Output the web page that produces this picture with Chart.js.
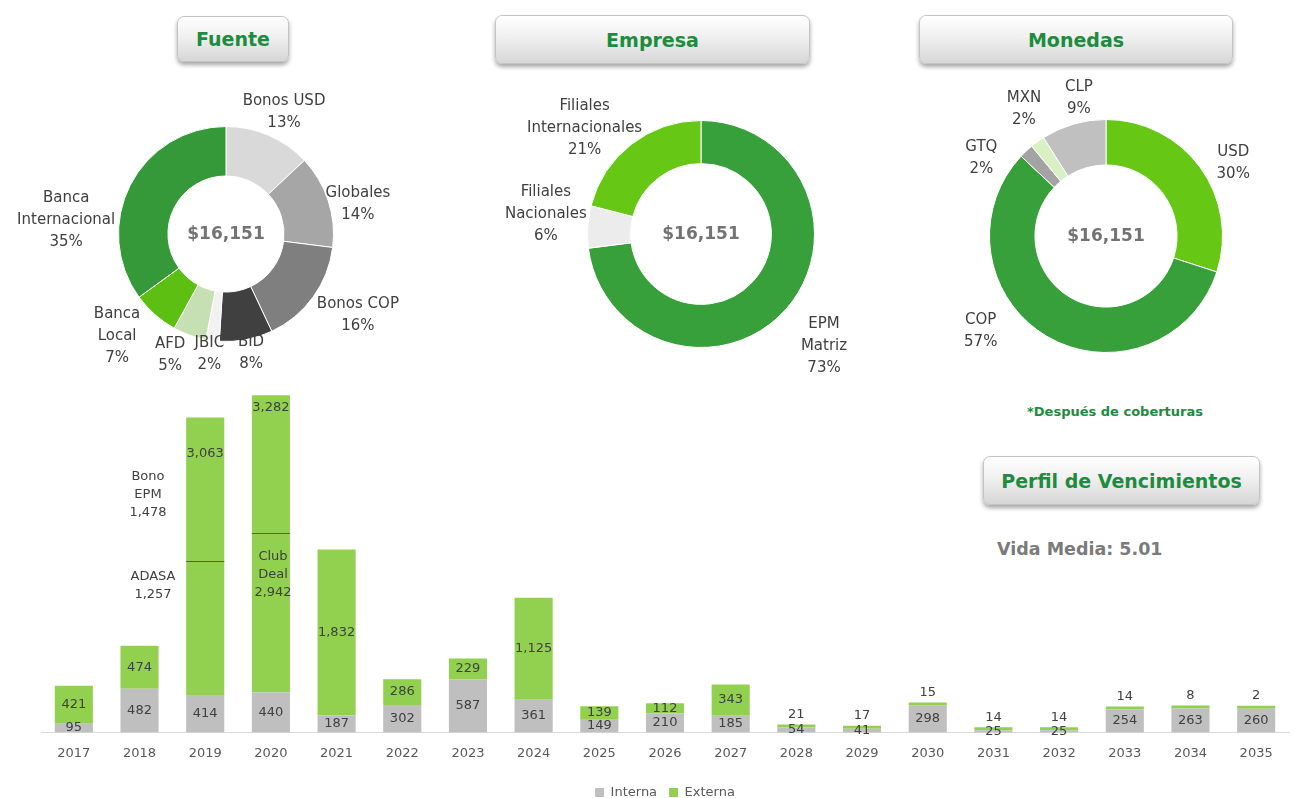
<!DOCTYPE html>
<html>
<head>
<meta charset="utf-8">
<script src="https://cdn.jsdelivr.net/npm/chart.js@4.4.0/dist/chart.umd.min.js"></script>
<style>
  body { margin: 0; background: #fff; font-family: "DejaVu Sans", sans-serif; }
  #page { position: relative; width: 1303px; height: 798px; overflow: hidden; background: #fff; }
  canvas { position: absolute; }
  .btn {
    position: absolute; box-sizing: border-box;
    border: 1px solid #c4c4c4; border-radius: 7px;
    background: linear-gradient(#ffffff, #f0f0f0 45%, #d6d6d6);
    box-shadow: 0 3px 4px rgba(0,0,0,0.35);
    color: #1e8b3e; font-weight: bold; font-size: 19px;
    display: flex; align-items: center; justify-content: center;
  }
  .note { position: absolute; color: #404040; font-size: 13px; line-height: 18px; text-align: center; }
</style>
</head>
<body>
<div id="page">
  <div class="btn" style="left:177px;top:16px;width:112px;height:46px;">Fuente</div>
  <div class="btn" style="left:495px;top:15px;width:315px;height:49px;">Empresa</div>
  <div class="btn" style="left:919px;top:15px;width:314px;height:49px;">Monedas</div>
  <div class="btn" style="left:983px;top:456px;width:277px;height:49px;">Perfil de Vencimientos</div>

  <div style="position:absolute;left:1000px;top:404px;width:230px;text-align:center;color:#1e8b3e;font-weight:bold;font-size:13px;">*Después de coberturas</div>
  <div style="position:absolute;left:997px;top:539px;color:#7a7a7a;font-weight:bold;font-size:17.5px;">Vida Media: 5.01</div>

  <canvas id="fuente" width="440" height="300" style="left:6px;top:84px;"></canvas>
  <canvas id="empresa" width="440" height="300" style="left:481px;top:84px;"></canvas>
  <canvas id="monedas" width="394" height="340" style="left:909px;top:66px;"></canvas>
  <canvas id="perfil" width="1303" height="423" style="left:0;top:386px;"></canvas>

  <div class="note" style="left:118px;top:467px;width:60px;">Bono<br>EPM<br>1,478</div>
  <div class="note" style="left:118px;top:567px;width:70px;">ADASA<br>1,257</div>
  <div class="note" style="left:243px;top:547px;width:60px;">Club<br>Deal<br>2,942</div>
</div>

<script>
// ---- datos ----
const totalDeuda = 16151;

const fuenteLabels = ["Bonos USD", "Globales", "Bonos COP", "BID", "JBIC", "AFD", ["Banca", "Local"], ["Banca", "Internacional"]];
const fuentePct = [13, 14, 16, 8, 2, 5, 7, 35];

const empresaLabels = [["EPM", "Matriz"], ["Filiales", "Nacionales"], ["Filiales", "Internacionales"]];
const empresaPct = [73, 6, 21];

const monedasLabels = ["USD", "COP", "GTQ", "MXN", "CLP"];
const monedasPct = [30, 57, 2, 2, 9];

const years = ["2017", "2018", "2019", "2020", "2021", "2022", "2023", "2024", "2025", "2026",
  "2027", "2028", "2029", "2030", "2031", "2032", "2033", "2034", "2035"];
const interna = [95, 482, 414, 440, 187, 302, 587, 361, 149, 210, 185, 54, 41, 298, 25, 25, 254, 263, 260];
const externa = [421, 474, 3063, 3282, 1832, 286, 229, 1125, 139, 112, 343, 21, 17, 15, 14, 14, 14, 8, 2];
// tramo inferior de la deuda externa separado por una linea (2019, 2020)
const externaSplit = [null, null, 1478, 1765, null, null, null, null, null, null, null, null, null, null, null, null, null, null, null];

// ---- estilos ----
const FONT = '"DejaVu Sans", sans-serif';
const LABEL_COLOR = '#404040';
const LINE_H = 22;

function fmt(n) { return n.toLocaleString('en-US'); }

function centerText(text) {
  return {
    id: 'centerText',
    afterDatasetsDraw(chart) {
      const arc = chart.getDatasetMeta(0).data[0];
      const ctx = chart.ctx;
      ctx.save();
      ctx.font = 'bold 17px ' + FONT;
      ctx.fillStyle = '#737373';
      ctx.textAlign = 'center';
      ctx.textBaseline = 'middle';
      ctx.fillText(text, arc.x, arc.y + 1);
      ctx.restore();
    }
  };
}

function outerLabels(nudges, gap) {
  return {
    id: 'outerLabels',
    afterDatasetsDraw(chart) {
      const ctx = chart.ctx;
      const meta = chart.getDatasetMeta(0);
      const values = chart.data.datasets[0].data;
      ctx.save();
      ctx.font = '15px ' + FONT;
      ctx.fillStyle = LABEL_COLOR;
      ctx.textAlign = 'center';
      ctx.textBaseline = 'middle';
      meta.data.forEach((arc, i) => {
        const lines = [].concat(chart.data.labels[i], values[i] + '%');
        const w = Math.max(...lines.map(l => ctx.measureText(l).width));
        const h = lines.length * LINE_H;
        const mid = (arc.startAngle + arc.endAngle) / 2;
        const dx = Math.cos(mid), dy = Math.sin(mid);
        const dist = arc.outerRadius + gap + Math.abs(dx) * w / 2 + Math.abs(dy) * h / 2;
        const n = nudges[i] || [0, 0];
        const cx = arc.x + dx * dist + n[0];
        const cy = arc.y + dy * dist + n[1];
        lines.forEach((l, k) => ctx.fillText(l, cx, cy - h / 2 + LINE_H * (k + 0.5)));
      });
      ctx.restore();
    }
  };
}

function doughnut(id, labels, data, colors, cutout, pad, nudges) {
  new Chart(document.getElementById(id), {
    type: 'doughnut',
    data: {
      labels: labels,
      datasets: [{
        data: data,
        backgroundColor: colors,
        borderColor: '#ffffff',
        borderWidth: 1,
        hoverOffset: 0
      }]
    },
    options: {
      responsive: false,
      animation: false,
      cutout: cutout,
      layout: { padding: pad },
      plugins: { legend: { display: false }, tooltip: { enabled: false } }
    },
    plugins: [centerText('$' + fmt(totalDeuda)), outerLabels(nudges, 2)]
  });
}

doughnut('fuente', fuenteLabels, fuentePct,
  ['#d9d9d9', '#a6a6a6', '#7f7f7f', '#404040', '#f2f2f2', '#c6e0b4', '#5cbf12', '#35993a'],
  '54%', { left: 112, right: 112, top: 42, bottom: 42 },
  [[0, 12], [-8, 16], [6, -10], [0, -12], [0, -12], [-10, -6], [-10, -10], [-10, 62]]);

doughnut('empresa', empresaLabels, empresaPct,
  ['#37a03b', '#ececec', '#66c814'],
  '62%', { left: 106, right: 106, top: 36, bottom: 36 },
  [[7, 10], [3, -10], [-8, 34]]);

doughnut('monedas', monedasLabels, monedasPct,
  ['#66c814', '#37a03b', '#a3a3a3', '#d8f0c4', '#c0c0c0'],
  '61%', { left: 80, right: 80, top: 53, bottom: 53 },
  [[10, 12], [-51, -30], [-25, 28], [4, -8], [13, 0]]);

// ---- perfil de vencimientos ----
const barLabels = {
  id: 'barLabels',
  afterDatasetsDraw(chart) {
    const ctx = chart.ctx;
    const y = chart.scales.y;
    ctx.save();
    ctx.font = '13px ' + FONT;
    ctx.fillStyle = LABEL_COLOR;
    ctx.textAlign = 'center';
    ctx.textBaseline = 'middle';
    // lineas divisorias
    const mi = chart.getDatasetMeta(0);
    mi.data.forEach((bar, i) => {
      if (externaSplit[i] == null) return;
      const py = Math.round(y.getPixelForValue(interna[i] + externaSplit[i])) + 0.5;
      ctx.strokeStyle = '#4f6b35';
      ctx.lineWidth = 1;
      ctx.beginPath();
      ctx.moveTo(bar.x - bar.width / 2, py);
      ctx.lineTo(bar.x + bar.width / 2, py);
      ctx.stroke();
    });
    chart.data.datasets.forEach((ds, d) => {
      chart.getDatasetMeta(d).data.forEach((bar, i) => {
        const h = bar.base - bar.y;
        let ty = (bar.y + bar.base) / 2;
        if (d === 1) {
          if (h < 8) ty = bar.y - 10;
          if (years[i] === '2019') ty = bar.y + 36;
          if (years[i] === '2020') ty = bar.y + 12;
        }
        ctx.fillText(fmt(ds.data[i]), bar.x, ty);
      });
    });
    ctx.restore();
  }
};

new Chart(document.getElementById('perfil'), {
  type: 'bar',
  data: {
    labels: years,
    datasets: [
      { label: 'Interna', data: interna, backgroundColor: '#bfbfbf', borderWidth: 0 },
      { label: 'Externa', data: externa, backgroundColor: '#92d050', borderWidth: 0, minBarLength: 3 }
    ]
  },
  options: {
    responsive: false,
    animation: false,
    layout: { padding: { left: 41, right: 14, top: 4, bottom: 0 } },
    datasets: { bar: { categoryPercentage: 1, barPercentage: 0.58 } },
    scales: {
      x: {
        stacked: true,
        grid: { display: false, drawTicks: false },
        border: { display: true, color: '#d9d9d9' },
        ticks: { color: '#595959', font: { family: FONT, size: 13 }, padding: 13 }
      },
      y: { stacked: true, display: false, min: 0, max: 3780 }
    },
    plugins: {
      legend: {
        position: 'bottom',
        labels: { color: '#595959', boxWidth: 9, boxHeight: 9, padding: 12, font: { family: FONT, size: 13 } }
      },
      tooltip: { enabled: false }
    }
  },
  plugins: [barLabels]
});
</script>
</body>
</html>
